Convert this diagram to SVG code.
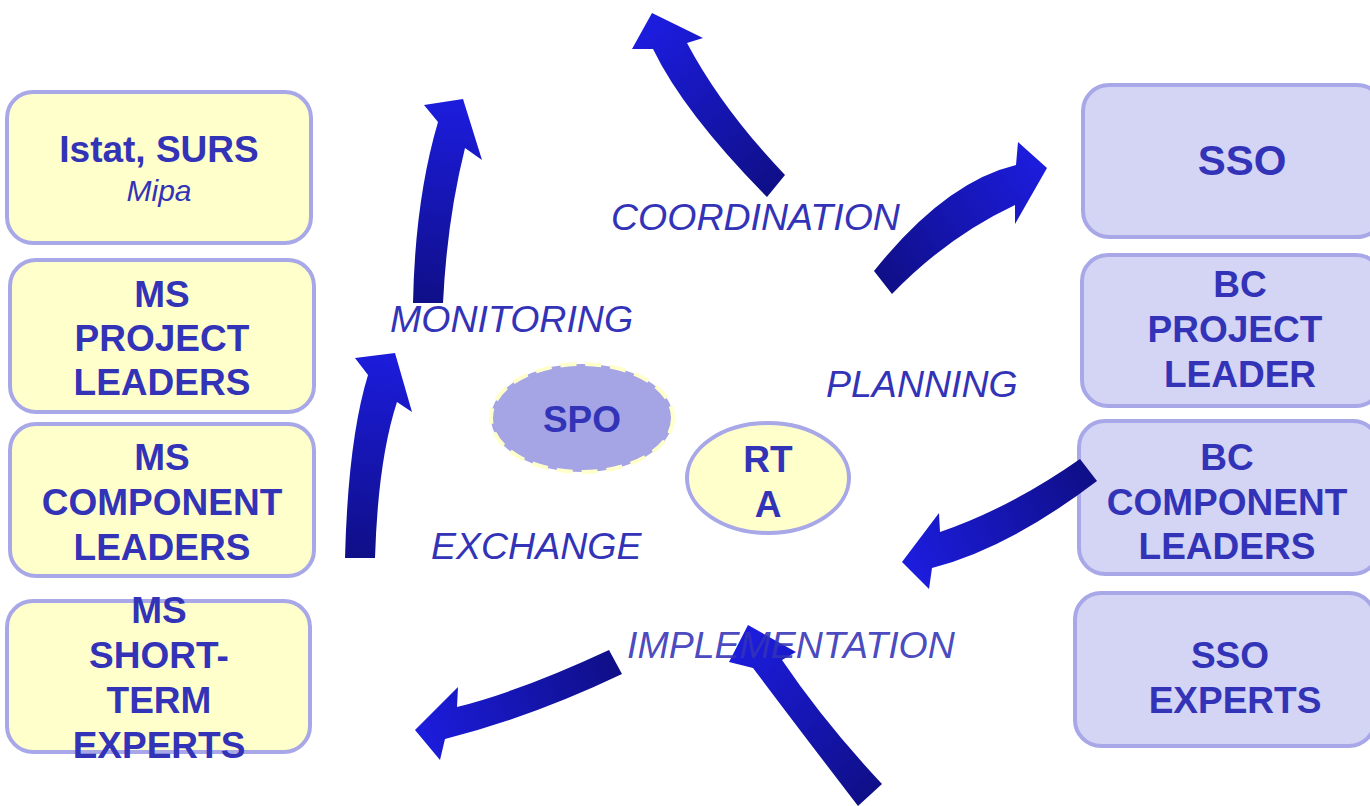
<svg xmlns="http://www.w3.org/2000/svg" width="1370" height="806" viewBox="0 0 1370 806">
<defs>
<style>
.t{font-family:"Liberation Sans",Arial,sans-serif;font-weight:bold;font-size:37px;fill:#3333B8;text-anchor:middle}
.lbl{font-family:"Liberation Sans",Arial,sans-serif;font-style:italic;font-size:37.5px;fill:#3333B8}
.yb{fill:#FFFFCC;stroke:#A8A8E8;stroke-width:4}
.lb{fill:#D4D4F4;stroke:#A8A8E8;stroke-width:4}
</style>
<linearGradient id="g1" gradientUnits="userSpaceOnUse" x1="428" y1="303" x2="455" y2="105"><stop offset="0" stop-color="#0F0F88"/><stop offset="1" stop-color="#1C1CDC"/></linearGradient>
<linearGradient id="g2" gradientUnits="userSpaceOnUse" x1="360" y1="558" x2="385" y2="355"><stop offset="0" stop-color="#0F0F88"/><stop offset="1" stop-color="#1C1CDC"/></linearGradient>
<linearGradient id="g3" gradientUnits="userSpaceOnUse" x1="776" y1="186" x2="660" y2="25"><stop offset="0" stop-color="#0F0F88"/><stop offset="1" stop-color="#1C1CDC"/></linearGradient>
<linearGradient id="g4" gradientUnits="userSpaceOnUse" x1="883" y1="282" x2="1040" y2="168"><stop offset="0" stop-color="#0F0F88"/><stop offset="1" stop-color="#1C1CDC"/></linearGradient>
<linearGradient id="g5" gradientUnits="userSpaceOnUse" x1="1088" y1="470" x2="910" y2="560"><stop offset="0" stop-color="#0F0F88"/><stop offset="1" stop-color="#1C1CDC"/></linearGradient>
<linearGradient id="g6" gradientUnits="userSpaceOnUse" x1="870" y1="795" x2="748" y2="640"><stop offset="0" stop-color="#0F0F88"/><stop offset="1" stop-color="#1C1CDC"/></linearGradient>
<linearGradient id="g7" gradientUnits="userSpaceOnUse" x1="615" y1="662" x2="420" y2="730"><stop offset="0" stop-color="#0F0F88"/><stop offset="1" stop-color="#1C1CDC"/></linearGradient>
</defs>
<rect width="1370" height="806" fill="#FFFFFF"/>

<g id="node-istat">
<rect class="yb" x="7" y="92" width="304" height="151" rx="26"/>
<text class="t" x="159" y="162">Istat, SURS</text>
<text x="159" y="201" style="font-family:'Liberation Sans',Arial,sans-serif;font-style:italic;font-size:30px;fill:#3333B8;text-anchor:middle">Mipa</text>
</g>
<g id="node-ms-project">
<rect class="yb" x="10" y="260" width="304" height="152" rx="26"/>
<text class="t" x="162" y="307">MS</text>
<text class="t" x="162" y="351">PROJECT</text>
<text class="t" x="162" y="395">LEADERS</text>
</g>
<g id="node-ms-component">
<rect class="yb" x="10" y="424" width="304" height="152" rx="26"/>
<text class="t" x="162" y="470">MS</text>
<text class="t" x="162" y="515">COMPONENT</text>
<text class="t" x="162" y="560">LEADERS</text>
</g>
<g id="node-ms-experts">
<rect class="yb" x="7" y="601" width="303" height="151" rx="26"/>
<text class="t" x="159" y="623">MS</text>
<text class="t" x="159" y="668">SHORT-</text>
<text class="t" x="159" y="713">TERM</text>
<text class="t" x="159" y="758">EXPERTS</text>
</g>

<g id="node-sso">
<rect class="lb" x="1083" y="85" width="300" height="152" rx="26"/>
<text class="t" x="1242" y="175" style="font-size:42px">SSO</text>
</g>
<g id="node-bc-project">
<rect class="lb" x="1082" y="255" width="300" height="151" rx="26"/>
<text class="t" x="1240" y="297">BC</text>
<text class="t" x="1235" y="342">PROJECT</text>
<text class="t" x="1240" y="387">LEADER</text>
</g>
<g id="node-bc-component">
<rect class="lb" x="1079" y="421" width="300" height="153" rx="26"/>
<text class="t" x="1227" y="470">BC</text>
<text class="t" x="1227" y="515">COMPONENT</text>
<text class="t" x="1227" y="559">LEADERS</text>
</g>
<g id="node-sso-experts">
<rect class="lb" x="1075" y="593" width="300" height="153" rx="26"/>
<text class="t" x="1230" y="668">SSO</text>
<text class="t" x="1235" y="713">EXPERTS</text>
</g>

<g id="node-spo">
<ellipse cx="582" cy="418" rx="91" ry="54" fill="#A5A5E6" stroke="#FFFFCC" stroke-width="4" stroke-dasharray="16 9"/>
<text class="t" x="582" y="432">SPO</text>
</g>
<g id="node-rta">
<ellipse cx="768" cy="478" rx="81" ry="55" fill="#FFFFCC" stroke="#A8A8E8" stroke-width="4"/>
<text class="t" x="768" y="472">RT</text>
<text class="t" x="768" y="517">A</text>
</g>

<g id="connectors">
<path fill="url(#g1)" d="M413,303 Q415,200 438,122 L424,105 L463,99 L482,160 L465,148 Q447,220 443,303 Z"/>
<path fill="url(#g2)" d="M345,558 Q348,440 368,375 L355,358 L395,353 L412,412 L397,402 Q378,460 375,558 Z"/>
<path fill="url(#g3)" d="M767,197 Q684,113 653,49 L632,49 L652,13 L703,38 L687,43 Q722,109 785,175 Z"/>
<path fill="url(#g4)" d="M874,271 Q945,182 1016,165 L1018,142 L1047,168 L1015,224 L1015,205 Q947,237 892,294 Z"/>
<path fill="url(#g5)" d="M1080,459 Q1010,508 940,532 L939,513 L902,562 L929,589 L932,568 Q1009,548 1097,481 Z"/>
<path fill="url(#g6)" d="M858,806 Q802,733 753,668 L729,662 L748,625 L796,652 L782,660 Q824,722 882,784 Z"/>
<path fill="url(#g7)" d="M609,650 Q521,691 457,707 L458,687 L415,730 L440,760 L445,739 Q532,717 622,674 Z"/>
</g>

<g id="labels">
<text class="lbl" x="611" y="230">COORDINATION</text>
<text class="lbl" x="390" y="332">MONITORING</text>
<text class="lbl" x="826" y="397">PLANNING</text>
<text class="lbl" x="431" y="559">EXCHANGE</text>
<text class="lbl" x="627" y="658" fill-opacity="0.9">IMPLEMENTATION</text>
</g>
</svg>
